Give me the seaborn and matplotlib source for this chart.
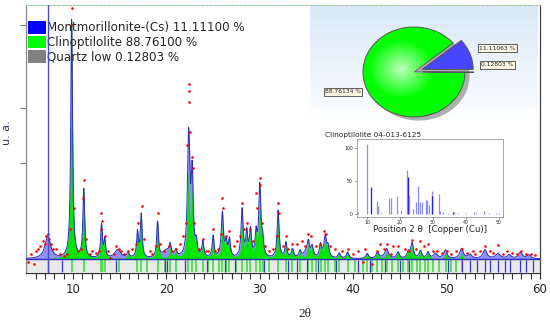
import numpy as np
import matplotlib
matplotlib.use("Agg")
import matplotlib.pyplot as plt
import seaborn as sns
from matplotlib.patches import Patch, Ellipse

# ---- data ----
# clinoptilolite peaks: position (2theta), height, half width
clin_pos = [9.85, 11.15, 13.05, 13.4, 15.9, 16.9, 17.3, 19.05, 20.4, 21.0, 22.35, 22.75,
            23.2, 23.9, 25.0, 26.0, 26.4, 26.75, 28.1, 28.6, 29.0, 29.6, 30.0, 30.3,
            31.95, 32.8, 33.5, 34.3, 35.2, 35.6, 36.5, 37.0, 37.3, 38.5, 39.4, 41.5,
            42.6, 43.6, 44.8, 45.9, 46.3, 47.2, 48.0, 49.9, 51.6]
clin_h = [94, 27, 13, 7, 2, 10, 17, 14, 4, 2.5, 32, 24,
          5, 6, 8.5, 13, 6, 7, 12, 9.5, 8.5, 9, 20, 6,
          16, 6, 3.5, 2.5, 5, 4, 5, 7, 4, 2, 2.5, 2,
          2.5, 2.5, 2.5, 2.5, 4.5, 3, 2.5, 2, 2]
clin_w = [0.11, 0.11, 0.11, 0.1, 0.14, 0.11, 0.11, 0.11, 0.12, 0.14, 0.13, 0.12,
          0.12, 0.12, 0.12, 0.12, 0.12, 0.12, 0.12, 0.12, 0.12, 0.12, 0.13, 0.12,
          0.12, 0.12, 0.14, 0.14, 0.14, 0.14, 0.14, 0.14, 0.14, 0.16, 0.16, 0.16,
          0.16, 0.16, 0.16, 0.16, 0.16, 0.16, 0.16, 0.16, 0.16]

# montmorillonite-(Cs) peaks
mont_pos = [7.3, 14.8, 20.0, 22.45, 22.8, 25.95, 28.1, 29.0, 30.0, 32.0, 35.0, 37.0,
            43.5, 46.3, 48.8, 49.8, 51.6, 52.5, 54.1, 55.5, 56.7, 57.9, 58.8]
mont_h = [9, 3.5, 3, 22, 8, 5, 7, 2, 8, 3, 2.5, 1.5,
          1.5, 1.5, 2, 1.5, 2, 1.5, 3.5, 2, 1.5, 2.5, 1.5]
mont_w = [0.35, 0.4, 0.5, 0.15, 0.12, 0.18, 0.15, 0.15, 0.15, 0.15, 0.4, 0.3,
          0.4, 0.2, 0.25, 0.25, 0.3, 0.25, 0.25, 0.3, 0.25, 0.25, 0.25]

# observed points (red dots)
obs_x = [5.2, 5.5, 5.8, 6.0, 6.3, 6.5, 6.8, 7.0, 7.15, 7.3, 7.45, 7.6, 7.9, 8.2, 8.6, 9.0,
         9.4, 9.65, 9.82, 9.85, 10.1, 10.5, 10.9, 11.1, 11.15, 11.4, 11.8, 12.0, 12.5,
         12.8, 13.0, 13.05, 13.1, 13.4, 13.7, 14.0, 14.4, 14.6, 14.9, 15.1, 15.5, 15.9,
         16.3, 16.7, 16.95, 17.35, 17.6, 18.2, 18.5, 18.9, 19.05, 19.3, 19.7, 20.3, 20.6,
         21.0, 21.5, 21.8, 22.1, 22.25, 22.38, 22.4, 22.42, 22.55, 22.7, 22.8, 23.0, 23.5,
         23.9, 24.2, 24.5, 25.0, 25.2, 25.5, 25.8, 25.95, 26.1, 26.4, 26.7, 27.2, 27.6,
         27.9, 28.05, 28.3, 28.6, 29.0, 29.3, 29.6, 29.7, 30.0, 30.05, 30.2, 30.6, 31.0,
         31.4, 31.8, 31.95, 32.1, 32.5, 32.8, 33.0, 33.5, 34.0, 34.5, 34.8, 35.2, 35.5,
         36.0, 36.4, 36.9, 37.1, 37.5, 38.0, 38.8, 39.4, 40.0, 40.5, 41.0, 41.3, 42.0,
         42.5, 42.9, 43.3, 43.6, 44.0, 44.3, 44.8, 45.5, 46.0, 46.3, 46.7, 47.2, 47.6,
         48.0, 48.5, 49.0, 49.5, 50.0, 50.5, 51.0, 51.6, 52.2, 52.8, 53.0, 53.6, 54.1,
         54.6, 55.0, 55.5, 56.0, 56.5, 57.0, 57.5, 58.0, 58.5, 59.0, 59.5]
obs_y = [-1, 2, -2, 3, 4, 5, 7, 6, 9, 10, 8, 6, 4, 4, 2, 1,
         2, 12, 92, 99, 20, 3, 4, 24, 31, 8, 2, 3, 2.5,
         3, 12, 18, 15, 9, 3, 0.5, 2, 5, 4, 3, 2, 3,
         4, 6, 14, 21, 8, 3, 2, 5, 18, 6, 3, 5, 3,
         4, 6, 9, 14, 45, 69, 66, 62, 50, 40, 36, 14, 4,
         8, 3, 3, 12, 3, 4, 10, 24, 20, 9, 11, 5, 7,
         9, 22, 12, 14, 12, 7, 26, 20, 32, 29, 14, 5, 3,
         4, 9, 22, 18, 5, 9, 4, 6, 6, 7, 5, 10, 9,
         5, 6, 11, 10, 5, 4, 3, 4, 2, 3, -1, 4, -2,
         3, 6, 4, 6, 2, 5, 5, 4, 3, 7.5, 4, 7, 5,
         6, 3, 3, 2.5, 3, 2, 3, 4, 2.5, 3, 2, 3, 5,
         3, 2.5, 5.5, 2, 3, 2.5, 2, 3, 2, 2, 1.5]

# reference sticks
green_sticks = [9.85, 11.15, 13.0, 13.1, 13.4, 14.9, 16.9, 17.3, 17.9, 19.05, 19.9, 20.4,
                21.0, 22.35, 22.75, 23.2, 23.9, 24.5, 25.0, 25.6, 26.0, 26.4, 26.75, 27.5,
                28.1, 28.6, 29.0, 29.6, 30.0, 30.3, 31.0, 31.95, 32.8, 33.5, 34.3, 35.2,
                35.6, 36.0, 36.5, 37.0, 37.3, 38.0, 38.5, 39.4, 40.2, 41.0, 41.5, 42.0,
                42.6, 43.1, 43.6, 44.2, 44.8, 45.3, 45.9, 46.3, 46.8, 47.2, 47.7, 48.0,
                48.5, 49.2, 49.9, 50.5, 51.0, 51.6]
blue_sticks = [7.3, 8.8, 14.6, 19.8, 20.1, 22.0, 24.4, 26.3, 27.3, 30.5, 33.0, 34.0, 35.0,
               36.2, 38.2, 40.5, 41.8, 43.4, 45.0, 46.0, 50.2, 51.6, 52.5, 53.3, 54.1, 54.6,
               55.5, 56.2, 56.8, 57.9, 58.5, 59.2]

legend_labels = ["Montmorillonite-(Cs) 11.11100 %", "Clinoptilolite 88.76100 %",
                 "Quartz low 0.12803 %"]
pie_values = [11.11063, 88.76134, 0.12803]
pie_texts = ["11.11063 %", "88.76134 %", "0.12803 %"]

# inset stick pattern Clinoptilolite 04-013-6125
ref_pos = [7.4, 9.9, 11.3, 13.1, 13.4, 14.3, 16.8, 17.2, 19.0, 20.4, 22.1, 22.3, 22.6,
           23.8, 24.9, 25.6, 26.0, 26.6, 27.9, 28.2, 28.7, 29.6, 29.8, 31.7, 32.2, 33.0,
           34.5, 36.2, 36.5, 37.5, 40.0, 42.3, 43.0, 45.6, 47.0, 49.0, 50.0]
ref_int = [3, 107, 42, 20, 12.6, 2, 25, 24, 27, 6.6, 67, 57, 29,
           8, 19, 43, 18, 18, 21, 22, 14, 35, 28, 31, 5.5, 4,
           2, 4, 4, 2, 1.5, 3, 2, 5, 2, 2, 1.5]
ref_dark = [22.3, 29.8, 11.3, 36.2]


def profile(x, pos, h, w):
    out = np.zeros_like(x)
    for c, a, g in zip(pos, h, w):
        out += a / (1 + ((x - c) / g) ** 2)
    return out


sns.set_style("white")
plt.rcParams["font.family"] = ["DejaVu Sans"]

fig = plt.figure(figsize=(5.5, 3.24), dpi=100)
W, H = 550, 324


def fbox(x0, y0, x1, y1):
    return [x0 / W, 1 - y1 / H, (x1 - x0) / W, (y1 - y0) / H]


ax = fig.add_axes(fbox(26.3, 5, 540, 273))

x = np.arange(5, 60.001, 0.01)
clin = profile(x, clin_pos, clin_h, clin_w)
mont = profile(x, mont_pos, mont_h, mont_w)
total = clin + mont

ax.fill_between([5, 60], -5.1, -0.4, color="#e9e9e9", lw=0, zorder=0)
ax.vlines(green_sticks, -5.1, -0.4, color="#2ee02e", lw=1.1, zorder=1)
ax.vlines(blue_sticks, -5.1, -0.4, color="#3535c8", lw=0.9, zorder=1)

ax.fill_between(x, 0, total, color="#8f8ff2", lw=0, zorder=2)
ax.fill_between(x, 0, clin, color="#00e600", lw=0, zorder=3)
sns.lineplot(x=x, y=total, ax=ax, color="#2a2ac0", lw=0.7, zorder=4)
ax.axhline(0, color="#2a2ac0", lw=1.0, zorder=4)
sns.scatterplot(x=obs_x, y=obs_y, ax=ax, color="red", s=3.5, linewidth=0, zorder=5)
ax.axvline(7.3, color="#4a4ac8", lw=1.0, zorder=6)

ax.set_xlim(5, 60)
ax.set_ylim(-5.5, 100)
ax.set_xticks([10, 20, 30, 40, 50, 60])
ax.set_xticks(np.arange(6, 60, 1), minor=True)
ax.set_yticks([92.1, 59.4, 37.8])
ax.set_yticklabels([])
ax.tick_params(axis="x", which="both", direction="out", length=4, width=0.8,
               color="#333333", labelsize=8.5, bottom=True, pad=3.5)
ax.tick_params(axis="y", direction="out", length=4, width=0.8, color="#777777", left=True)
ax.set_xlabel("")
ax.set_ylabel("")
for s in ["left", "right", "bottom"]:
    ax.spines[s].set_linewidth(0.9)
ax.spines["left"].set_color("#888888")
ax.spines["bottom"].set_color("#333333")
ax.spines["right"].set_color("#444444")
ax.spines["top"].set_color("#9cc8a8")
ax.spines["top"].set_linestyle((0, (2, 1.5)))

handles = [Patch(facecolor=c, edgecolor="none") for c in ["#0000ff", "#00ff00", "#808080"]]
ax.legend(handles, legend_labels, loc="upper left", bbox_to_anchor=(0.004, 0.94),
          frameon=False, fontsize=8.6, handlelength=1.45, handleheight=1.25,
          handletextpad=0.15, labelspacing=0.1, borderpad=0, borderaxespad=0)

fig.text(7 / W, 1 - 133 / H, "u. a.", rotation=90, fontsize=8, color="#333355",
         ha="center", va="center")
fig.text(305 / W, 1 - 314 / H, "2θ", fontsize=9.5, family="Liberation Serif",
         ha="center", va="center")

# ---- pie panel with gradient ----
axg = fig.add_axes(fbox(310, 6, 538, 125))
grad = np.linspace(0, 1, 100)[:, None]
base = np.array([0.85, 0.91, 0.97])
img = base[None, None, :] * (1 - grad[..., None]) + np.ones(3)[None, None, :] * grad[..., None]
img = np.repeat(img, 2, axis=1)
axg.imshow(img, aspect="auto", extent=[0, 1, 0, 1], origin="upper")
axg.axis("off")

axp = fig.add_axes(fbox(358, 22, 478, 122))
axp.add_patch(Ellipse((0.09, -0.08), 2.0, 2.0, color="#9c9c9c", alpha=0.8, lw=0, zorder=0))
wedges, _ = axp.pie(pie_values, colors=["#4646ff", "#00ff00", "#8a8a8a"],
                    startangle=0, counterclock=True, explode=[0.17, 0, 0.17],
                    wedgeprops=dict(edgecolor="#555555", linewidth=0.7))
yy, xx = np.mgrid[-1:1:200j, -1:1:200j]
rr = np.hypot(xx + 0.25, yy - 0.05)
glow = np.zeros((200, 200, 4))
glow[..., :3] = 1
glow[..., 3] = np.clip(0.75 * (1 - rr / 0.65), 0, 0.75)
im = axp.imshow(glow, extent=[-1, 1, -1, 1], origin="lower", zorder=3)
im.set_clip_path(wedges[1])
axp.set_aspect("auto")
axp.set_xlim(-1.098, 1.255)
axp.set_ylim(-1.111, 1.111)
axp.axis("off")

box = dict(boxstyle="square,pad=0.25", fc="#fbf6e2", ec="#444444", lw=0.6)
fig.text(479 / W, 1 - 48 / H, pie_texts[0], fontsize=4.3, va="center", ha="left", bbox=box)
fig.text(481 / W, 1 - 65 / H, pie_texts[2], fontsize=4.3, va="center", ha="left", bbox=box)
fig.text(325 / W, 1 - 92 / H, pie_texts[1], fontsize=4.3, va="center", ha="left", bbox=box)

# ---- inset stick pattern ----
axi = fig.add_axes(fbox(356.7, 139, 503.3, 216.7))
colors = ["#1a1aff" if p in ref_dark else "#8c8cff" for p in ref_pos]
axi.vlines(ref_pos, 0, ref_int, colors=colors, lw=0.9)
axi.set_xlim(6.9, 51.3)
axi.set_ylim(-3.6, 114)
axi.set_xticks([10, 20, 30, 40, 50])
axi.set_yticks([0, 50, 100])
axi.tick_params(labelsize=3.3, length=1.2, width=0.4, pad=1.5, bottom=True, left=True)
for s in axi.spines.values():
    s.set_color("#999999")
    s.set_linewidth(0.6)
fig.text(325 / W, 1 - 135 / H, "Clinoptilolite 04-013-6125", fontsize=5.3, va="center")
fig.text(430 / W, 1 - 230 / H, "Position 2 θ  [Copper (Cu)]", fontsize=6.2,
         ha="center", va="center")

fig.savefig("out.png", dpi=100)
